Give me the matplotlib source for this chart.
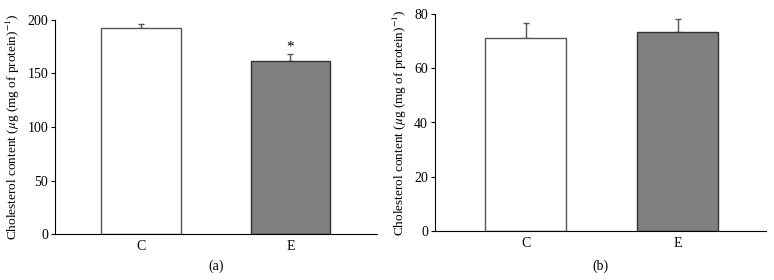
import matplotlib.pyplot as plt

plt.rcParams['font.family'] = 'Liberation Serif'
plt.rcParams['mathtext.fontset'] = 'stix'

# --- data ---
groups = ['C', 'E']
chol_a = [192, 162]
err_a = [4, 6]
chol_b = [71, 73.5]
err_b = [5.5, 4.5]
colors = ['white', '#808080']
edges = ['#555555', '#333333']

ylabel = r'Cholesterol content ($\mu$g (mg of protein)$^{-1}$)'

fig = plt.figure(figsize=(7.74, 2.80), dpi=100)
ax_a = fig.add_axes([0.0711, 0.164, 0.416, 0.765])
ax_b = fig.add_axes([0.562, 0.175, 0.428, 0.775])


def draw(ax, vals, errs, ylim, yticks, xlim, tag, tag_y):
    x = range(len(groups))
    ax.bar(x, vals, width=0.53, color=colors, edgecolor=edges, linewidth=1.0, zorder=2)
    ax.errorbar(x, vals, yerr=[[0, 0], errs], fmt='none', ecolor='#555555',
                elinewidth=1.0, capsize=2.5, capthick=1.0, zorder=1)
    ax.set_ylim(*ylim)
    ax.set_xlim(*xlim)
    ax.set_yticks(yticks)
    ax.set_xticks(list(x))
    ax.set_xticklabels(groups)
    ax.tick_params(axis='x', length=0, pad=4, labelsize=10)
    ax.tick_params(axis='y', length=3, width=0.8, labelsize=10, pad=2)
    ax.spines['top'].set_visible(False)
    ax.spines['right'].set_visible(False)
    for s in ('left', 'bottom'):
        ax.spines[s].set_linewidth(0.8)
    ax.set_ylabel(ylabel, fontsize=9.5, labelpad=4)
    ax.text(0.5, tag_y, tag, transform=ax.transAxes, ha='center', va='top', fontsize=10)


draw(ax_a, chol_a, err_a, (0, 200), [0, 50, 100, 150, 200], (-0.575, 1.58), '(a)', -0.12)
draw(ax_b, chol_b, err_b, (0, 80), [0, 20, 40, 60, 80], (-0.595, 1.582), '(b)', -0.13)

# significance marker
ax_a.text(1, chol_a[1] + err_a[1] + 0.5, '*', ha='center', va='bottom', fontsize=11)

fig.savefig('out.png', dpi=100)
